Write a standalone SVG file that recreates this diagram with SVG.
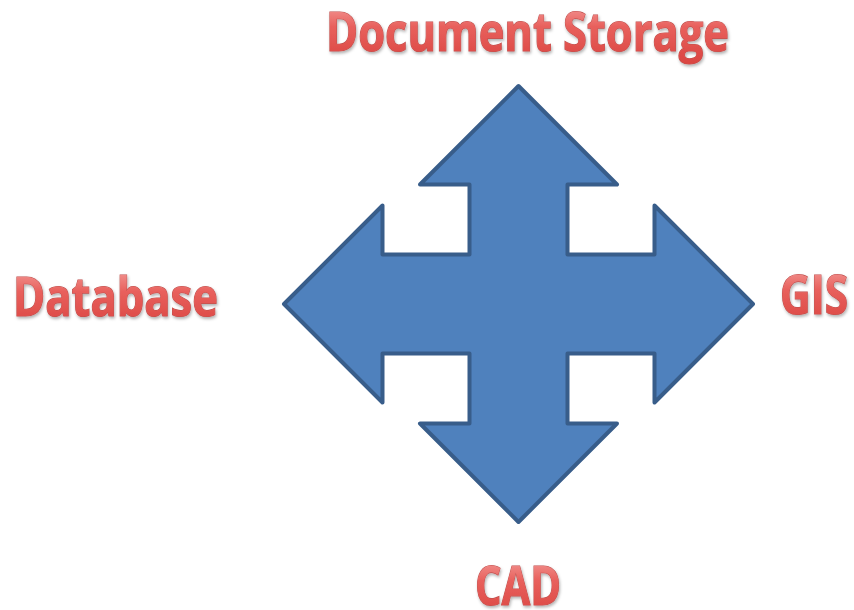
<svg xmlns="http://www.w3.org/2000/svg" width="854" height="610" viewBox="0 0 854 610">
<defs>
<linearGradient id="redGrad" x1="0" y1="0" x2="0" y2="1">
<stop offset="0" stop-color="#F7B0AE"/>
<stop offset="0.45" stop-color="#E8605C"/>
<stop offset="1" stop-color="#D9423F"/>
</linearGradient>
<filter id="shadow" x="-20%" y="-50%" width="140%" height="200%">
<feDropShadow dx="1" dy="2" stdDeviation="1.5" flood-color="#000" flood-opacity="0.3"/>
</filter>
<style>
.lbl{font-family:"Open Sans","Liberation Sans",sans-serif;font-weight:bold;font-size:53px;fill:url(#redGrad);stroke:#C0504D;stroke-width:1.2;paint-order:stroke;filter:url(#shadow)}
.arrow{fill:#4F81BD;stroke:#385D8A;stroke-width:4;stroke-linejoin:round}
</style>
</defs>
<g id="connectors">
<path class="arrow" d="M518.5,86 L617,184.5 L567.5,184.5 L567.5,254.5 L654.5,254.5 L654.5,205.5 L753,304 L654.5,402.5 L654.5,353.5 L567.5,353.5 L567.5,423.5 L617,423.5 L518.5,522 L420,423.5 L469.5,423.5 L469.5,353.5 L382.5,353.5 L382.5,402.5 L284,304 L382.5,205.5 L382.5,254.5 L469.5,254.5 L469.5,184.5 L420,184.5 Z"/>
</g>
<g id="document-storage"><text class="lbl" x="326" y="51" textLength="403" lengthAdjust="spacingAndGlyphs">Document Storage</text></g>
<g id="database"><text class="lbl" x="13" y="316" textLength="205" lengthAdjust="spacingAndGlyphs">Database</text></g>
<g id="gis"><text class="lbl" x="780" y="314" textLength="68" lengthAdjust="spacingAndGlyphs">GIS</text></g>
<g id="cad"><text class="lbl" x="475" y="605" textLength="86" lengthAdjust="spacingAndGlyphs">CAD</text></g>
</svg>
